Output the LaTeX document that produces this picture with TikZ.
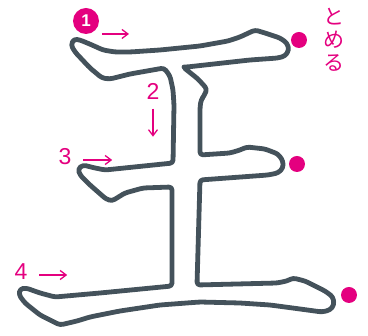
\documentclass[tikz,border=0pt]{standalone}
\usepackage{fontspec}
\setsansfont{Liberation Sans}
\newfontfamily\jpfont{Noto Sans CJK JP}
\usetikzlibrary{arrows.meta}
\definecolor{inkgray}{HTML}{44525B}
\definecolor{guidepink}{HTML}{E4007F}

\begin{document}
\begin{tikzpicture}[
    x=1pt, y=-1pt,
    glyph/.style={draw=inkgray, line width=4.8pt, line join=round, rounded corners=3pt},
    num/.style={text=guidepink, inner sep=0pt, font=\fontsize{23}{23}\sffamily\selectfont},
    guide/.style={-{Straight Barb[length=6pt, width=9pt]}, guidepink, line width=1.3pt},
    stopdot/.style={circle, fill=guidepink, inner sep=0pt, minimum size=16pt},
  ]
  \useasboundingbox (0,0) rectangle (368,336);

  % ── outline of the character ──
  \draw[glyph]
    (74,39) -- (80,40) -- (92,45) -- (103,50) -- (115,52) -- (130,52) -- (160,50)
    -- (200,46) -- (228,41) -- (240,37) -- (255,30) -- (265,33) -- (280,38)
    -- (287,43) -- (289,50) -- (285,56) -- (278,58) -- (250,60) -- (187,67)
    -- (183,67) -- (198,79) -- (207,89) -- (204,96) -- (201,100) -- (200,108)
    -- (200,155) -- (230,153) -- (240,150) -- (247,147) -- (265,149) -- (278,154)
    -- (283,161) -- (283,168) -- (278,173) -- (268,175) -- (200,180)
    -- (197,285) -- (277,283) -- (287,281) -- (293,278) -- (305,281) -- (325,291)
    -- (333,297) -- (334,305) -- (330,310) -- (322,312) -- (300,309) -- (270,305)
    -- (240,303) -- (200,302) -- (160,305) -- (120,311) -- (90,317) -- (77,321)
    -- (60,325) -- (40,315) -- (25,303) -- (19,295) -- (20,289) -- (26,288)
    -- (40,293) -- (55,297) -- (100,293) -- (172,286)
    -- (172,187) -- (143,188) -- (125,193) -- (112,201) -- (106,199) -- (90,185)
    -- (80,175) -- (78,169) -- (83,165) -- (95,168) -- (105,170) -- (173,163)
    -- (174,105) -- (173,90) -- (170,76) -- (164,68)
    -- (130,74) -- (110,79) -- (102,78) -- (90,68) -- (75,52) -- (71,45) -- cycle;

  % ── stroke numbers ──
  \node[circle, fill=guidepink, text=white, inner sep=0pt, minimum size=26pt,
        font=\fontsize{17}{17}\sffamily\bfseries\selectfont] (n1) at (86,21) {1};
  \node[num] (n2) at (153,91) {2};
  \node[num] (n3) at (65,157) {3};
  \node[num] (n4) at (21,272) {4};

  % ── direction arrows ──
  \draw[guide] ([shift={(16,13)}]n1.center) -- ++(27,0);
  \draw[guide] ([yshift=-9.5pt]n2.south) -- ++(0,28);
  \draw[guide] ([xshift=11.6pt, yshift=-3pt]n3.east) -- ++(29,0);
  \draw[guide] ([xshift=11.6pt, yshift=-3pt]n4.east) -- ++(28,0);

  % ── stop marks ──
  \node[stopdot] (stop1) at (299,40) {};
  \node[stopdot] (stop3) at (297,164) {};
  \node[stopdot] (stop4) at (349,295) {};
  \node[text=guidepink, align=center, inner sep=0pt,
        font=\jpfont\fontsize{21}{23}\selectfont] (tome) at (334,40) {と\\め\\る};

\end{tikzpicture}
\end{document}
